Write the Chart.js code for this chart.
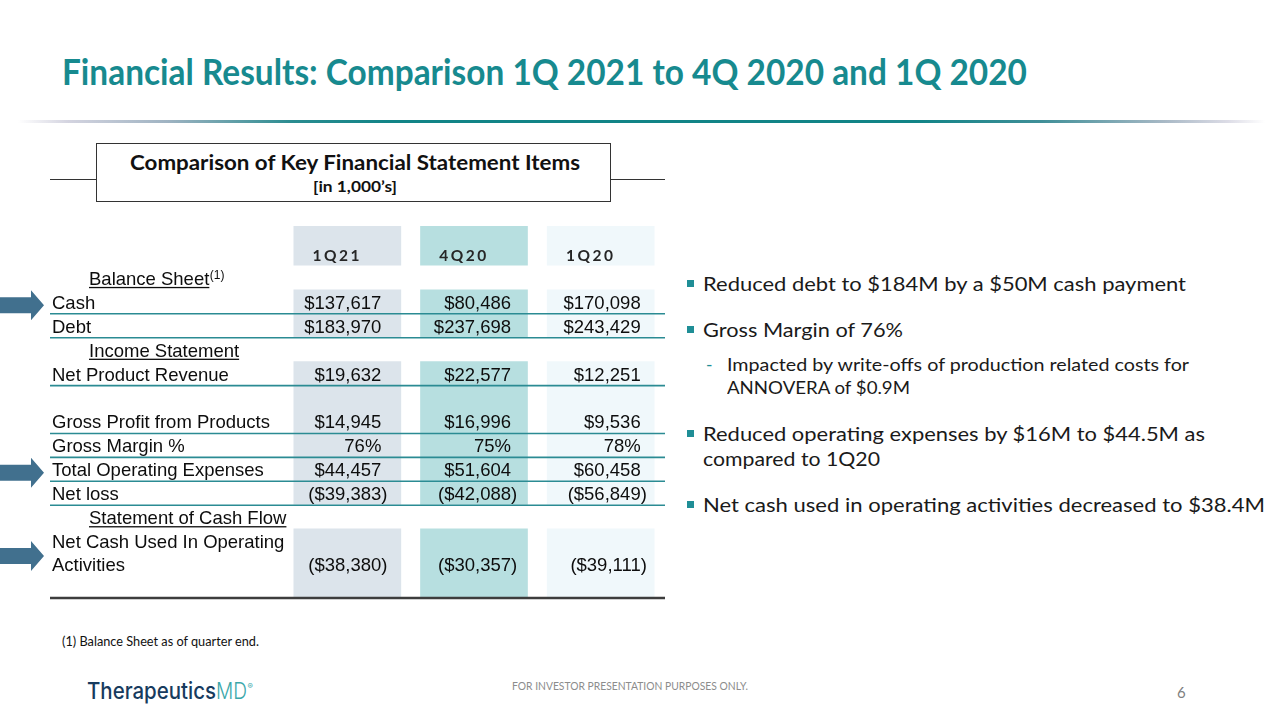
<!DOCTYPE html>
<html><head><meta charset="utf-8">
<script src="https://cdn.jsdelivr.net/npm/chart.js@4.4.1/dist/chart.umd.min.js"></script>
<style>
html,body{margin:0;padding:0;background:#fff;}
#slide{position:relative;width:1280px;height:720px;overflow:hidden;background:#fff;font-family:Lato,'Open Sans',sans-serif;}
.t{position:absolute;white-space:nowrap;line-height:1;transform-origin:0 0;}
#tbl{position:absolute;left:0;top:220px;}
#rule{position:absolute;left:18px;top:120px;width:1247px;height:3px;
 background:linear-gradient(to right,rgba(255,255,255,0) 0%,#d4d4e0 4%,#9fb3c2 12%,#2a8c90 22%,#118487 30%,#118487 72%,#3f8f98 82%,#a9b9c6 92%,#dcdce6 97%,rgba(255,255,255,0) 100%);}
.box{position:absolute;left:96px;top:143px;width:513px;height:57px;border:1.5px solid #333;}
.hl{position:absolute;height:1.5px;background:#333;top:178.5px;}
.sq{position:absolute;width:7px;height:7px;background:#1f8e96;}
</style></head>
<body><div id="slide">
 <div id="rule"></div>
 <div class="hl" style="left:50px;width:46px"></div>
 <div class="hl" style="left:611px;width:54px"></div>
 <div class="box"></div>
 <canvas id="tbl" width="680" height="390"></canvas>
</div>
<script>
// ---------------- DATA ----------------
const quarters = ['1Q21', '4Q20', '1Q20'];
const sectionLabels = ['Balance Sheet', 'Income Statement', 'Statement of Cash Flow'];
const cash = [137617, 80486, 170098];
const debt = [183970, 237698, 243429];
const netProductRevenue = [19632, 22577, 12251];
const grossProfit = [14945, 16996, 9536];
const grossMarginPct = [76, 75, 78];
const totalOpex = [44457, 51604, 60458];
const netLoss = [-39383, -42088, -56849];
const netCashOps = [-38380, -30357, -39111];
const bullets = [
  'Reduced debt to $184M by a $50M cash payment',
  'Gross Margin of 76%',
  'Reduced operating expenses by $16M to $44.5M as',
  'compared to 1Q20',
  'Net cash used in operating activities decreased to $38.4M'
];
const subBullets = ['Impacted by write-offs of production related costs for', 'ANNOVERA of $0.9M'];
// --------------------------------------

const slide = document.getElementById('slide');
function T(txt, x, base, size, o = {}) {
  const d = document.createElement('div');
  d.className = 't'; d.textContent = txt;
  d.style.left = x + 'px'; d.style.fontSize = size + 'px';
  d.style.top = (base - (o.asc || 0.887) * size) + 'px';
  if (o.color) d.style.color = o.color;
  if (o.weight) d.style.fontWeight = o.weight;
  if (o.family) d.style.fontFamily = o.family;
  if (o.ls) d.style.letterSpacing = o.ls;
  slide.appendChild(d);
  if (o.w) { const w = d.getBoundingClientRect().width; d.style.transform = 'scaleX(' + (o.w / w) + ')'; }
  return d;
}

// Title & header
T('Financial Results: Comparison 1Q 2021 to 4Q 2020 and 1Q 2020', 62, 85, 36, {weight: 700, color: '#178a8f', w: 965});
T('Comparison of Key Financial Statement Items', 130, 170, 20, {weight: 700, color: '#111', w: 450});
T('[in 1,000\u2019s]', 313, 192, 16, {weight: 700, color: '#111', w: 84});

// Right bullets
const bBase = [291.7, 337.7, 441.7, 466.7, 512.7];
const bW = [483, 200, 502, 177, 562];
const bHasSq = [true, true, true, false, true];
bullets.forEach((b, i) => {
  T(b, 703, bBase[i], 19.5, {color: '#1a1a1a', w: bW[i]});
  if (bHasSq[i]) {
    const s = document.createElement('div'); s.className = 'sq';
    s.style.left = '687px'; s.style.top = (bBase[i] - 11.7) + 'px'; slide.appendChild(s);
  }
});
const sBase = [372, 395], sW = [462, 183];
subBullets.forEach((b, i) => T(b, 727, sBase[i], 17.5, {color: '#1a1a1a', w: sW[i]}));
T('-', 706, 372, 17.5, {color: '#1f8e96'});

// Footnote & footer
T('(1)  Balance Sheet as of quarter end.', 62, 647, 12.5, {color: '#111', w: 197});
T('FOR INVESTOR PRESENTATION PURPOSES ONLY.', 512, 690, 10.5, {color: '#8c8c8c', w: 236});
T('6', 1177, 698, 15, {color: '#7f7f7f'});
T('Therapeutics', 87, 699.5, 23, {family: 'Inter', weight: 500, color: '#173b5e', w: 129, asc: 0.85});
T('MD', 216, 699.5, 23, {family: 'Inter', weight: 300, color: '#3aa7aa', w: 31, asc: 0.85});
T('\u00AE', 247.5, 689, 8, {family: 'Inter', color: '#3aa7aa'});

// ---------------- TABLE (Chart.js) ----------------
const rows = [
  {kind: 'header', units: 1.65},
  {kind: 'section', label: sectionLabels[0], sup: '(1)'},
  {kind: 'data', label: 'Cash', values: cash, line: true, arrow: true},
  {kind: 'data', label: 'Debt', values: debt, line: true},
  {kind: 'section', label: sectionLabels[1]},
  {kind: 'data', label: 'Net Product Revenue', values: netProductRevenue, line: true},
  {kind: 'blank'},
  {kind: 'data', label: 'Gross Profit from Products', values: grossProfit, line: true},
  {kind: 'data', label: 'Gross Margin %', values: grossMarginPct, pct: true, line: true},
  {kind: 'data', label: 'Total Operating Expenses', values: totalOpex, line: true, arrow: true},
  {kind: 'data', label: 'Net loss', values: netLoss, line: true},
  {kind: 'section', label: sectionLabels[2]},
  {kind: 'data', label: ['Net Cash Used In Operating', 'Activities'], values: netCashOps, units: 2.9, arrow: true, rule: true}
];
let acc = 0;
rows.forEach(r => { r.s = acc; acc += (r.units || 1); r.e = acc; });
const total = acc;

// shaded bands = contiguous runs of non-section rows
const bands = [];
let cur = null;
rows.forEach(r => {
  if (r.kind === 'section') { cur = null; return; }
  if (!cur) { cur = [r.s, r.e]; bands.push(cur); } else cur[1] = r.e;
});
const colColors = ['#dce4eb', '#b7dfe0', '#f0f8fb'];

function fmt(v, pct) {
  if (pct) return v + '%';
  const s = '$' + Math.abs(v).toLocaleString('en-US');
  return v < 0 ? '(' + s + ')' : s;
}

const LABEL_FONT = '18.5px "Liberation Sans", Arial, sans-serif';
const tablePlugin = {
  id: 'tableText',
  afterDraw(chart) {
    const ctx = chart.ctx, xs = chart.scales.x, ys = chart.scales.y;
    ctx.save();
    rows.forEach(r => {
      const bot = ys.getPixelForValue(r.e);
      if (r.line) {
        ctx.strokeStyle = '#2b8b93'; ctx.lineWidth = 1.6;
        ctx.beginPath(); ctx.moveTo(50, bot + 0.5); ctx.lineTo(665, bot + 0.5); ctx.stroke();
      }
      if (r.rule) {
        ctx.strokeStyle = '#3d3d3d'; ctx.lineWidth = 2.5;
        ctx.beginPath(); ctx.moveTo(50, bot); ctx.lineTo(665, bot); ctx.stroke();
      }
    });
    rows.forEach(r => {
      const top = ys.getPixelForValue(r.s), bot = ys.getPixelForValue(r.e);
      if (r.kind === 'header') {
        ctx.font = 'bold 15.5px Lato, sans-serif';
        ctx.fillStyle = '#262626'; ctx.textAlign = 'center'; ctx.textBaseline = 'alphabetic';
        ctx.letterSpacing = '2.5px';
        quarters.forEach((q, i) => ctx.fillText(q, xs.getPixelForValue(i) - 10, bot - 4));
        ctx.letterSpacing = '0px';
      } else if (r.kind === 'section') {
        ctx.font = LABEL_FONT; ctx.fillStyle = '#0d0d0d'; ctx.textAlign = 'left'; ctx.textBaseline = 'alphabetic';
        const b = bot - 4.5;
        ctx.fillText(r.label, 89, b);
        const w = ctx.measureText(r.label).width;
        ctx.fillRect(89, b + 2, w, 1.3);
        if (r.sup) { ctx.font = '12px "Liberation Sans", Arial, sans-serif'; ctx.fillText(r.sup, 89 + w + 0.5, b - 6); }
      } else if (r.kind === 'data') {
        ctx.font = LABEL_FONT; ctx.fillStyle = '#0d0d0d'; ctx.textBaseline = 'alphabetic';
        const multi = Array.isArray(r.label);
        const vb = multi ? bot - 27 : bot - 4.5;
        ctx.textAlign = 'left';
        if (multi) { ctx.fillText(r.label[0], 52, bot - 50); ctx.fillText(r.label[1], 52, bot - 27); }
        else ctx.fillText(r.label, 52, vb);
        ctx.textAlign = 'right';
        const pw = ctx.measureText(')').width;
        r.values.forEach((v, i) => {
          const R = xs.getPixelForValue(i) + 34 + i * 3;
          ctx.fillText(fmt(v, r.pct), v < 0 && !r.pct ? R + pw : R, vb);
        });
        if (r.arrow) {
          const cy = multi ? bot - 42 : (top + bot) / 2 + 4;
          ctx.fillStyle = '#41708e';
          ctx.beginPath();
          ctx.moveTo(0, cy - 8); ctx.lineTo(31, cy - 8); ctx.lineTo(31, cy - 15);
          ctx.lineTo(44, cy); ctx.lineTo(31, cy + 15); ctx.lineTo(31, cy + 8); ctx.lineTo(0, cy + 8);
          ctx.closePath(); ctx.fill();
        }
      }
    });
    ctx.restore();
  }
};

new Chart(document.getElementById('tbl'), {
  type: 'bar',
  data: {
    labels: quarters,
    datasets: bands.map(b => ({
      data: quarters.map(() => [b[0], b[1]]),
      backgroundColor: colColors,
      borderWidth: 0,
      grouped: false,
      barPercentage: 0.85,
      categoryPercentage: 1
    }))
  },
  options: {
    responsive: false,
    animation: false,
    events: [],
    layout: {padding: {left: 284, right: 16, top: 6, bottom: 12}},
    plugins: {legend: {display: false}, tooltip: {enabled: false}},
    scales: {
      x: {display: false},
      y: {display: false, reverse: true, min: 0, max: total}
    }
  },
  plugins: [tablePlugin]
});
</script>
</body></html>
